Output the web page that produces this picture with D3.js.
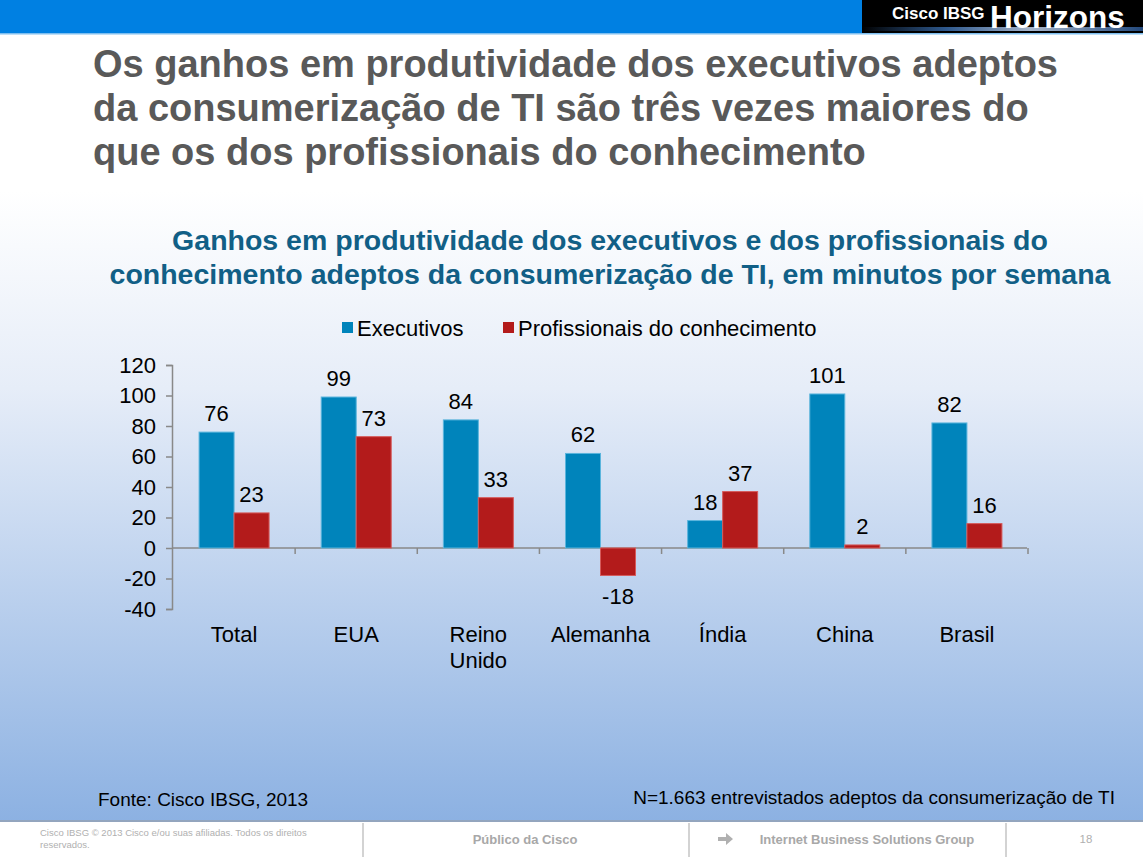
<!DOCTYPE html>
<html><head><meta charset="utf-8">
<script src="https://d3js.org/d3.v7.min.js"></script>
<style>body{margin:0;padding:0;overflow:hidden}svg{display:block}</style>
</head><body>
<script>
const categories = ["Total","EUA","Reino Unido","Alemanha","Índia","China","Brasil"];
const seriesNames = ["Executivos","Profissionais do conhecimento"];
const executivos = [76,99,84,62,18,101,82];
const profissionais = [23,73,33,-18,37,2,16];
const yTicks = [-40,-20,0,20,40,60,80,100,120];
const colors = ["#0084BB","#B31B1B"];
const strokes = ["#5BB5DD","#D65A5A"];

const W=1143,H=857;
const svg=d3.select("body").append("svg").attr("width",W).attr("height",H);
const defs=svg.append("defs");
const g1=defs.append("linearGradient").attr("id","bg").attr("x1",0).attr("y1",0).attr("x2",0).attr("y2",1);
g1.append("stop").attr("offset","0%").attr("stop-color","#ffffff");
g1.append("stop").attr("offset","20%").attr("stop-color","#ffffff");
g1.append("stop").attr("offset","45%").attr("stop-color","#e6edf8");
g1.append("stop").attr("offset","100%").attr("stop-color","#8CB1E2");
const g2=defs.append("linearGradient").attr("id","glow").attr("x1",0).attr("y1",0).attr("x2",1).attr("y2",0);
g2.append("stop").attr("offset","0%").attr("stop-color","#000");
g2.append("stop").attr("offset","30%").attr("stop-color","#3a6fb0");
g2.append("stop").attr("offset","60%").attr("stop-color","#cfe3ff");
g2.append("stop").attr("offset","100%").attr("stop-color","#2a5a9a");

svg.append("rect").attr("x",0).attr("y",33).attr("width",W).attr("height",789).attr("fill","url(#bg)");
svg.append("rect").attr("x",0).attr("y",0).attr("width",W).attr("height",33).attr("fill","#0080E2");
svg.append("rect").attr("x",0).attr("y",33).attr("width",W).attr("height",1.5).attr("fill","#7fbff0");
// logo
svg.append("rect").attr("x",862).attr("y",0).attr("width",281).attr("height",33).attr("fill","#000");
svg.append("rect").attr("x",862).attr("y",27).attr("width",281).attr("height",4).attr("fill","url(#glow)").attr("opacity",0.8);
svg.append("text").attr("x",892).attr("y",19).attr("fill","#fff").attr("font-family","Liberation Sans, Arial, sans-serif").attr("font-weight","bold").attr("font-size",17).text("Cisco IBSG");
svg.append("text").attr("x",990).attr("y",28).attr("fill","#fff").attr("font-family","Liberation Sans, Arial, sans-serif").attr("font-weight","bold").attr("font-size",31.5).text("Horizons");

const ff="Liberation Sans, Arial, sans-serif";
// title
const tl=["Os ganhos em produtividade dos executivos adeptos","da consumerização de TI são três vezes maiores do","que os dos profissionais do conhecimento"];
tl.forEach((t,i)=>svg.append("text").attr("x",93).attr("y",77+i*44).attr("fill","#595959").attr("font-family",ff).attr("font-weight","bold").attr("font-size",38).text(t));
// subtitle
const sl=["Ganhos em produtividade dos executivos e dos profissionais do","conhecimento adeptos da consumerização de TI, em minutos por semana"];
sl.forEach((t,i)=>svg.append("text").attr("x",610).attr("y",250+i*34).attr("text-anchor","middle").attr("fill","#115F86").attr("font-family",ff).attr("font-weight","bold").attr("font-size",28.5).text(t));

// legend
const lx=[342,503];
seriesNames.forEach((n,i)=>{
  svg.append("rect").attr("x",lx[i]).attr("y",322).attr("width",11).attr("height",11).attr("fill",colors[i]);
  svg.append("text").attr("x",lx[i]+15).attr("y",336).attr("font-family",ff).attr("font-size",22).attr("fill","#000").text(n);
});

// scales
const x=d3.scaleBand().domain(categories).range([173,1028]).paddingInner(0.427).paddingOuter(0.2135);
const xs=d3.scaleBand().domain([0,1]).range([0,x.bandwidth()]);
const y=d3.scaleLinear().domain([-40,120]).range([609,365]);

// y axis
const ya=svg.append("g").attr("transform","translate(172,0)").call(d3.axisLeft(y).tickValues(yTicks).tickFormat(d=>String(d)).tickSize(6).tickPadding(10));
ya.select(".domain").attr("stroke","#898989").attr("stroke-width",1.5);
ya.selectAll(".tick line").attr("stroke","#898989").attr("stroke-width",1.5);
ya.selectAll(".tick text").attr("font-family",ff).attr("font-size",22).attr("fill","#000");

// x axis line at 0
svg.append("line").attr("x1",172).attr("x2",1027).attr("y1",y(0)).attr("y2",y(0)).attr("stroke","#898989").attr("stroke-width",1.5);
const bounds=categories.map((c,i)=>x(c)-x.step()*x.paddingInner()/2+x.step());
bounds.forEach(b=>svg.append("line").attr("x1",b).attr("x2",b).attr("y1",y(0)).attr("y2",y(0)+6).attr("stroke","#898989").attr("stroke-width",1.5));

const series=[executivos,profissionais];
series.forEach((vals,si)=>{
  svg.append("g").selectAll("rect").data(vals).join("rect")
    .attr("x",(d,i)=>x(categories[i])+xs(si))
    .attr("width",xs.bandwidth())
    .attr("y",d=>y(Math.max(0,d)))
    .attr("height",d=>Math.abs(y(d)-y(0)))
    .attr("fill",colors[si]).attr("stroke",strokes[si]).attr("stroke-width",1);
  svg.append("g").selectAll("text").data(vals).join("text")
    .attr("x",(d,i)=>x(categories[i])+xs(si)+xs.bandwidth()/2)
    .attr("y",d=>d>=0?y(d)-11:y(d)+29)
    .attr("text-anchor","middle").attr("font-family",ff).attr("font-size",22).attr("fill","#000")
    .text(d=>String(d));
});

// category labels
categories.forEach(c=>{
  const parts=c==="Reino Unido"?["Reino","Unido"]:[c];
  parts.forEach((p,j)=>svg.append("text").attr("x",x(c)+x.bandwidth()/2).attr("y",642+j*26).attr("text-anchor","middle").attr("font-family",ff).attr("font-size",22).attr("fill","#000").text(p));
});

// notes
svg.append("text").attr("x",98).attr("y",806).attr("font-family",ff).attr("font-size",19).attr("fill","#000").text("Fonte: Cisco IBSG, 2013");
svg.append("text").attr("x",1115).attr("y",804).attr("text-anchor","end").attr("font-family",ff).attr("font-size",19).attr("fill","#000").text("N=1.663 entrevistados adeptos da consumerização de TI");

// footer
svg.append("rect").attr("x",0).attr("y",820).attr("width",W).attr("height",3).attr("fill","#9a9a9a").attr("opacity",0.5);
svg.append("rect").attr("x",0).attr("y",822).attr("width",W).attr("height",35).attr("fill","#fff");
[363,689,1006].forEach(v=>svg.append("line").attr("x1",v).attr("x2",v).attr("y1",823).attr("y2",857).attr("stroke","#c4c4c4").attr("stroke-width",1.5));
svg.append("text").attr("x",40).attr("y",836).attr("font-family",ff).attr("font-size",9.5).attr("fill","#b0b0b0").text("Cisco IBSG © 2013 Cisco e/ou suas afiliadas. Todos os direitos");
svg.append("text").attr("x",40).attr("y",848).attr("font-family",ff).attr("font-size",9.5).attr("fill","#b0b0b0").text("reservados.");
svg.append("text").attr("x",525).attr("y",844).attr("text-anchor","middle").attr("font-family",ff).attr("font-weight","bold").attr("font-size",13).attr("fill","#a8a8a8").text("Público da Cisco");
svg.append("text").attr("x",867).attr("y",844).attr("text-anchor","middle").attr("font-family",ff).attr("font-weight","bold").attr("font-size",13).attr("fill","#a8a8a8").text("Internet Business Solutions Group");
svg.append("path").attr("d","M718,837 h8 v-4 l7,6 l-7,6 v-4 h-8 z").attr("fill","#b0b0b0");
svg.append("text").attr("x",1086).attr("y",843).attr("text-anchor","middle").attr("font-family",ff).attr("font-size",11.5).attr("fill","#b0b0b0").text("18");
</script>
</body></html>
